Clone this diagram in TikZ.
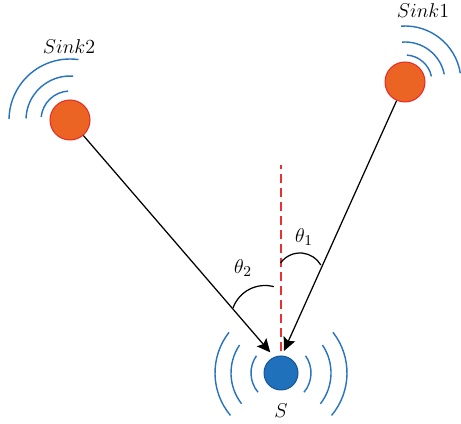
\documentclass[tikz,border=0pt]{standalone}
\usepackage{tikz}
\usetikzlibrary{arrows.meta, positioning}
\usepackage{amsmath}

\definecolor{sinkorange}{RGB}{235,100,36}
\definecolor{sinkred}{RGB}{230,40,40}
\definecolor{srcblue}{RGB}{31,113,188}
\definecolor{srcedge}{RGB}{25,85,150}
\definecolor{wavecol}{RGB}{40,115,190}
\definecolor{dashred}{RGB}{232,50,50}

\begin{document}
\begin{tikzpicture}[
    x=0.6pt, y=0.6pt, >=Stealth,
    sink/.style={circle, draw=sinkred, fill=sinkorange, line width=0.6pt, minimum size=24pt, inner sep=0pt},
    src/.style={circle, draw=srcedge, fill=srcblue, line width=0.6pt, minimum size=20.4pt, inner sep=0pt},
    lbl/.style={font=\fontsize{12.5}{15}\selectfont},
    arr/.style={draw, ->, line width=0.75pt, >={Stealth[length=8pt, width=7.5pt, inset=1.5pt]}},
    wave/.style={draw=wavecol, line width=0.85pt},
    refline/.style={draw=dashred, line width=0.75pt, dash pattern=on 5.4pt off 3pt},
    angmark/.style={draw, line width=0.75pt}
]
\useasboundingbox (0,0) rectangle (461,424);

% Sinks and the source
\node[sink] (sink2) at (70,304) {};
\node[sink] (sink1) at (405,342) {};
\node[src] (S) at (281,51) {};

% Labels
\node[lbl] (sink2lbl) at (69,377) {$Sink2$};
\node[lbl] (sink1lbl) at (423,413) {$Sink1$};
\node[lbl] (Slbl) at (281,13) {$S$};
\node[lbl] (th1) at (304,187) {$\theta_1$};
\node[lbl] (th2) at (243,156) {$\theta_2$};

% Reference direction (dashed)
\coordinate (vtop) at (281,259);
\path (S) edge[refline, shorten <=2.4pt] (vtop);

% Paths from the sinks to S
\path (sink2) edge[arr, shorten >=3.6pt] (S.113);
\path (sink1) edge[arr, shorten >=3pt] (S.87);

% Angle marks
\draw[angmark] (300,147) ++(144:24) arc[start angle=144, end angle=30, radius=24];
\draw[angmark] (265,104.5) ++(75:34) arc[start angle=75, end angle=160, radius=34];

% Waves of Sink2
\draw[wave] (sink2) ++(94:29) arc[start angle=94, end angle=174, radius=29];
\draw[wave] (sink2) ++(86:44) arc[start angle=86, end angle=178, radius=44];
\draw[wave] (sink2) ++(82:61) arc[start angle=82, end angle=179, radius=61];

% Waves of Sink1
\draw[wave] (sink1) ++(86:27) arc[start angle=86, end angle=12, radius=27];
\draw[wave] (sink1) ++(94:40) arc[start angle=94, end angle=11, radius=40];
\draw[wave] (sink1) ++(94:56) arc[start angle=94, end angle=9, radius=56];

% Waves of S (right)
\draw[wave] (S) ++(-40:30) arc[start angle=-40, end angle=35, radius=30];
\draw[wave] (S) ++(-38:50) arc[start angle=-38, end angle=34, radius=50];
\draw[wave] (S) ++(-40:66) arc[start angle=-40, end angle=38, radius=66];

% Waves of S (left)
\draw[wave] (S) ++(145:30) arc[start angle=145, end angle=220, radius=30];
\draw[wave] (S) ++(146:50) arc[start angle=146, end angle=218, radius=50];
\draw[wave] (S) ++(142:66) arc[start angle=142, end angle=220, radius=66];

\end{tikzpicture}
\end{document}
